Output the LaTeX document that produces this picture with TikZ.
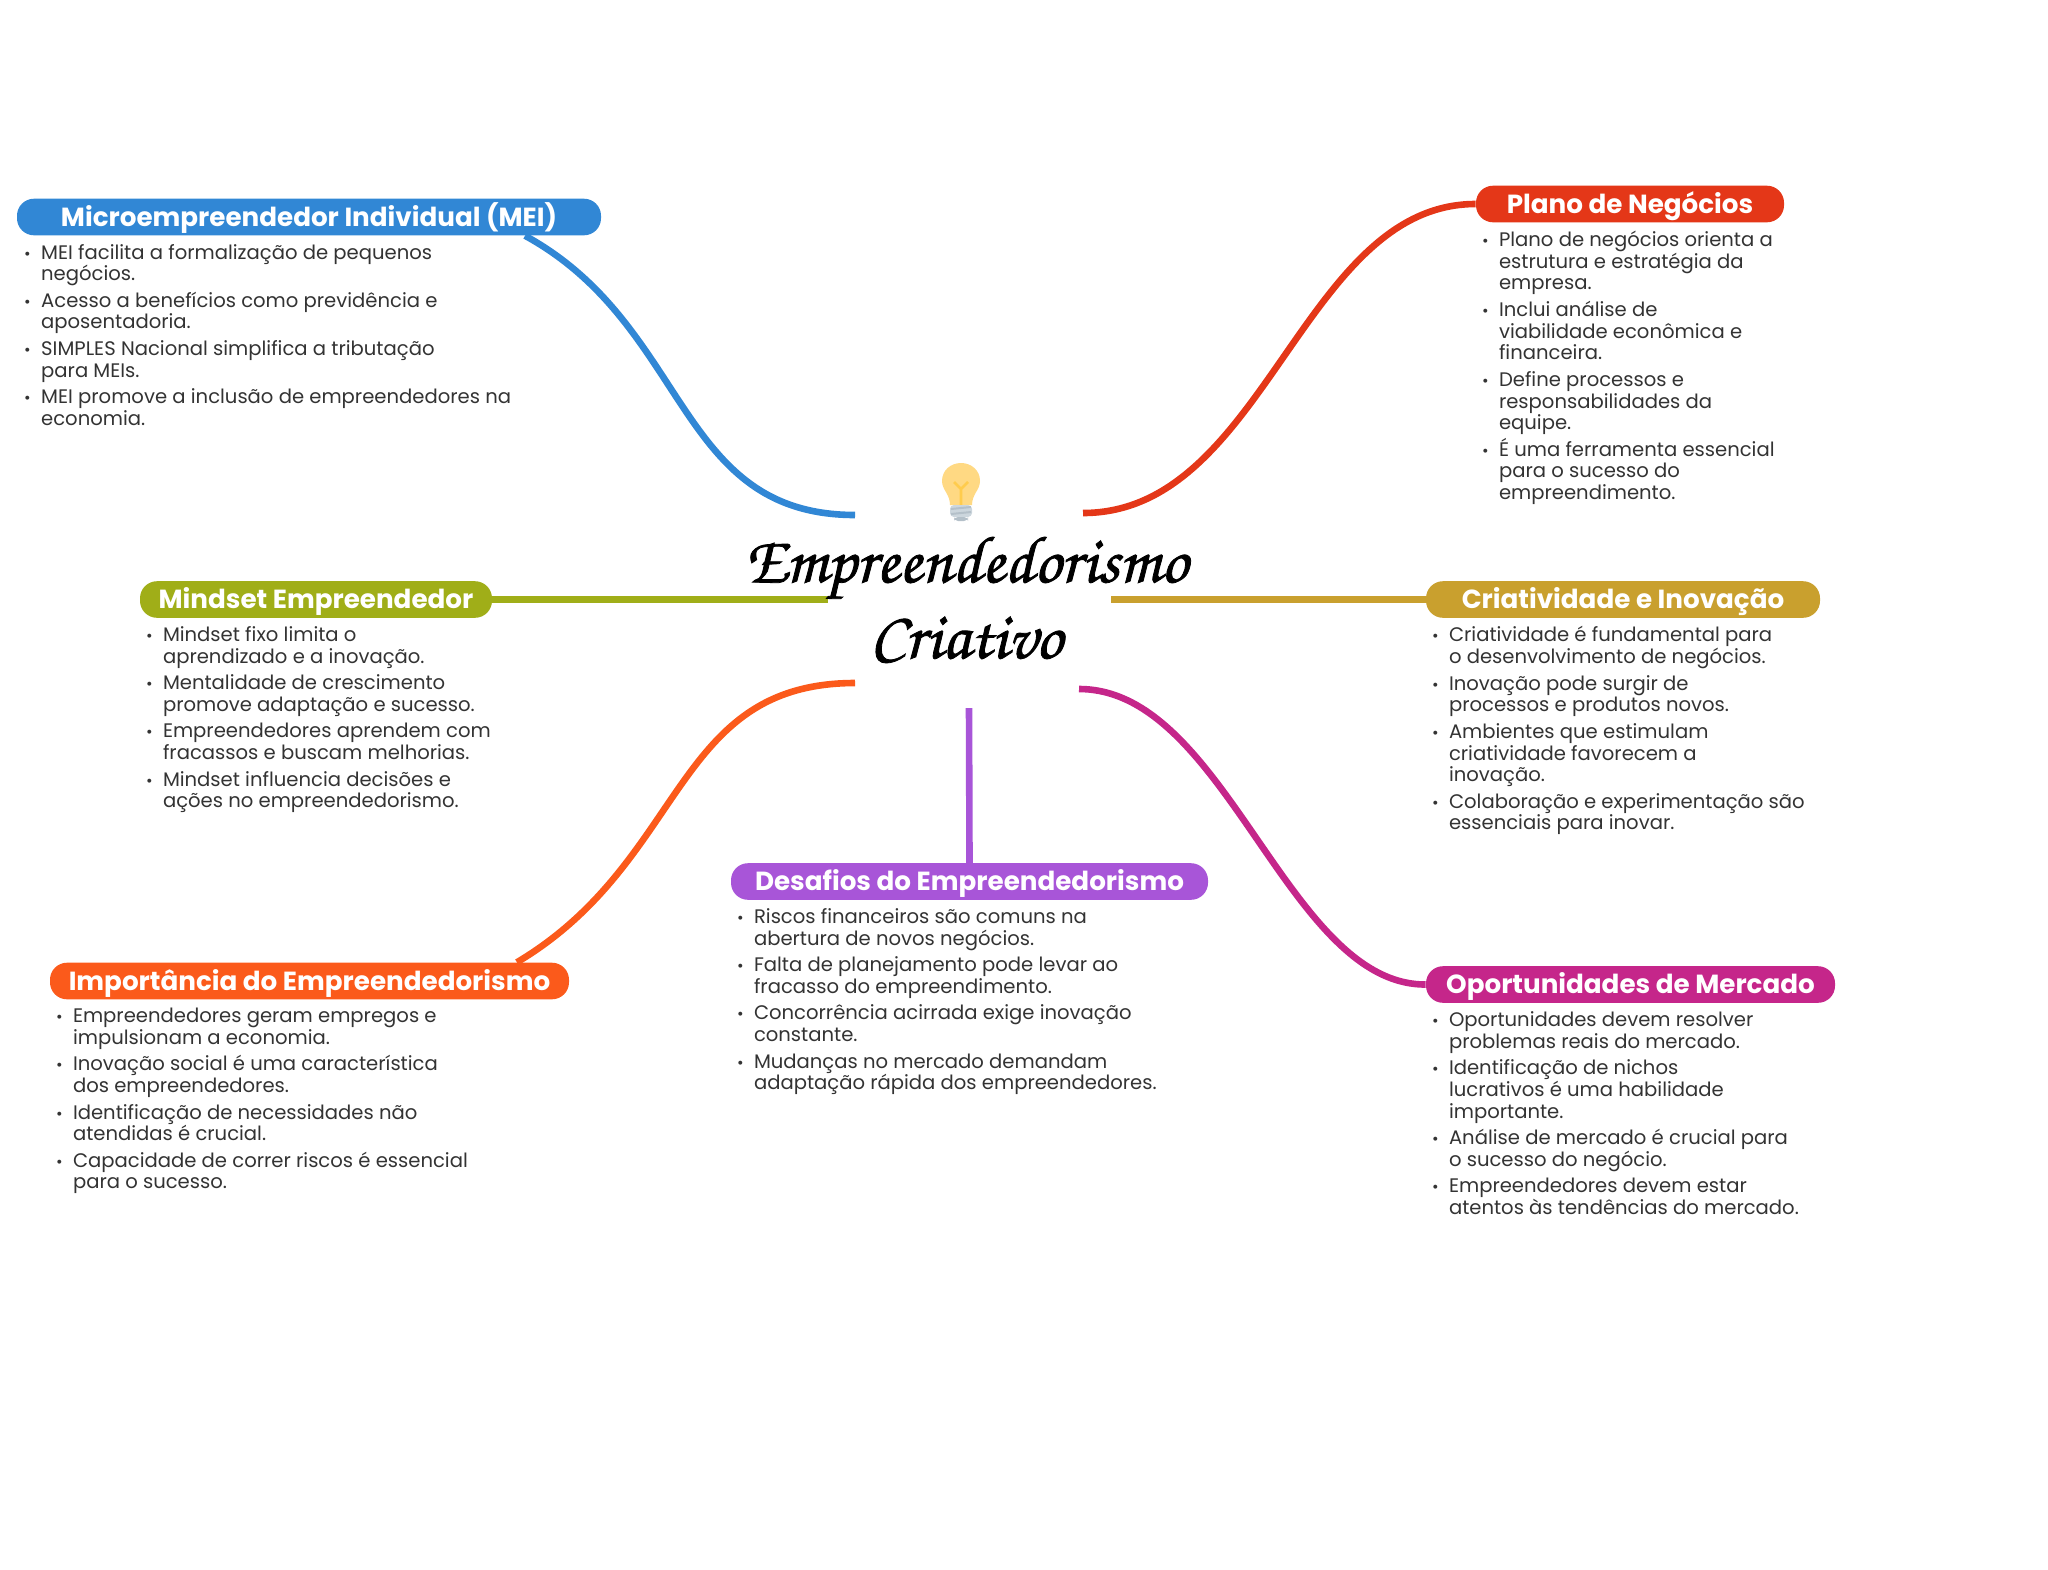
\documentclass[tikz,border=0pt]{standalone}
\usepackage{fontspec}
\setmainfont{Poppins}
\newfontfamily\titlefont[AutoFakeBold=1.2]{TeX Gyre Chorus}
\usetikzlibrary{positioning, backgrounds}
\definecolor{meiBlue}{HTML}{3187D5}
\definecolor{planoRed}{HTML}{E43718}
\definecolor{mindsetGreen}{HTML}{A0AE18}
\definecolor{criaGold}{HTML}{C9A02E}
\definecolor{impOrange}{HTML}{FB5A1B}
\definecolor{desafioPurple}{HTML}{A855D8}
\definecolor{oportMagenta}{HTML}{C5268A}
\definecolor{bulbGlass}{HTML}{FFD983}
\definecolor{bulbStem}{HTML}{FFCC4D}
\definecolor{bulbScrew}{HTML}{B4C0C9}
\definecolor{bulbTip}{HTML}{CCD6DD}
\tikzset{
  topicpill/.style={
    fill=#1, rectangle, rounded corners=8.5pt, text=white,
    font=\fontsize{13.1}{14}\selectfont\bfseries,
    text height=11pt, text depth=1.9pt,
    minimum height=18.3pt, inner sep=0pt
  },
  % Bullet lists under each pill
  topiclist/.style={
    align=left, inner sep=0pt, text=black!80,
    font=\fontsize{9.8}{10.85}\selectfont\lineskiplimit -10pt
  },
  % Branch line
  branch/.style={
    draw=#1, line width=3.3pt
  },
  titlenode/.style={
    align=center, inner sep=0pt, font=\titlefont\fontsize{33.4}{38}\selectfont\bfseries
  },
}
\newcommand{\itm}{\makebox[8.5pt][l]{\fontsize{8}{8}\selectfont •}}
\newcommand{\cnt}{\hspace*{8.5pt}}
\newcommand{\gap}{\\[2.4pt]}
\newcommand{\bulbicon}[2]{%
  \begin{scope}[shift={(#2)}]
    \fill[bulbGlass] (-11,23) .. controls (-11,12) and (-19,8) .. (-19,-1)
      .. controls (-19,-12) and (-10,-19) .. (0,-19)
      .. controls (10,-19) and (19,-12) .. (19,-1)
      .. controls (19,8) and (11,12) .. (11,23) -- cycle;          % glass
    \draw[bulbStem, line width=1.3pt] (0,23) -- (0,7) -- (-7,0) (0,7) -- (7,0);  % filament
    \fill[bulbTip, rounded corners=2pt] (-11,23) rectangle (11,35);  % screw
    \draw[bulbScrew, line width=1pt] (-10,27) -- (10,25) (-10,32) -- (10,30);     % thread
    \fill[bulbScrew, rounded corners=2pt] (-7,35) rectangle (7,39);   % tip
    \coordinate (#1) at (0,0);
  \end{scope}
}

\begin{document}
\begin{tikzpicture}[x=0.5pt, y=-0.5pt]
  \useasboundingbox (0,0) rectangle (2048,1569);

  %% ── Central topic ──
  \node[titlenode] (title) at (966,600) {Empreendedorismo\\Criativo};
  \bulbicon{bulb}{961,482}

  %% ── Topic pills ──
  \node[topicpill=meiBlue, minimum width=292pt] (mei) at (309,217) {Microempreendedor Individual (MEI)};
  \node[topicpill=planoRed, minimum width=154pt] (plano) at (1630,204) {Plano de Negócios};
  \node[topicpill=mindsetGreen, minimum width=176pt] (mindset) at (316,599.5) {Mindset Empreendedor};
  \node[topicpill=criaGold, minimum width=197pt] (cria) at (1623,599.5) {Criatividade e Inovação};
  \node[topicpill=impOrange, minimum width=259.5pt] (imp) at (309.5,981) {Importância do Empreendedorismo};
  \node[topicpill=desafioPurple, minimum width=238.5pt] (desafio) at (969.5,881.5) {Desafios do Empreendedorismo};
  \node[topicpill=oportMagenta, minimum width=204.5pt] (oport) at (1630.5,984.5) {Oportunidades de Mercado};

  %% ── Bullet lists ──
  \node[topiclist, below right=4pt and 3.6pt of mei.south west] (meiList) {%
    \itm MEI facilita a formalização de pequenos\\\cnt negócios.\gap
    \itm Acesso a benefícios como previdência e\\\cnt aposentadoria.\gap
    \itm SIMPLES Nacional simplifica a tributação\\\cnt para MEIs.\gap
    \itm MEI promove a inclusão de empreendedores na\\\cnt economia.};
  \node[topiclist, below right=4pt and 3pt of plano.south west] (planoList) {%
    \itm Plano de negócios orienta a\\\cnt estrutura e estratégia da\\\cnt empresa.\gap
    \itm Inclui análise de\\\cnt viabilidade econômica e\\\cnt financeira.\gap
    \itm Define processos e\\\cnt responsabilidades da\\\cnt equipe.\gap
    \itm É uma ferramenta essencial\\\cnt para o sucesso do\\\cnt empreendimento.};
  \node[topiclist, below right=4pt and 3pt of mindset.south west] (mindsetList) {%
    \itm Mindset fixo limita o\\\cnt aprendizado e a inovação.\gap
    \itm Mentalidade de crescimento\\\cnt promove adaptação e sucesso.\gap
    \itm Empreendedores aprendem com\\\cnt fracassos e buscam melhorias.\gap
    \itm Mindset influencia decisões e\\\cnt ações no empreendedorismo.};
  \node[topiclist, below right=4pt and 3pt of cria.south west] (criaList) {%
    \itm Criatividade é fundamental para\\\cnt o desenvolvimento de negócios.\gap
    \itm Inovação pode surgir de\\\cnt processos e produtos novos.\gap
    \itm Ambientes que estimulam\\\cnt criatividade favorecem a\\\cnt inovação.\gap
    \itm Colaboração e experimentação são\\\cnt essenciais para inovar.};
  \node[topiclist, below right=4pt and 3pt of imp.south west] (impList) {%
    \itm Empreendedores geram empregos e\\\cnt impulsionam a economia.\gap
    \itm Inovação social é uma característica\\\cnt dos empreendedores.\gap
    \itm Identificação de necessidades não\\\cnt atendidas é crucial.\gap
    \itm Capacidade de correr riscos é essencial\\\cnt para o sucesso.};
  \node[topiclist, below right=4pt and 3pt of desafio.south west] (desafioList) {%
    \itm Riscos financeiros são comuns na\\\cnt abertura de novos negócios.\gap
    \itm Falta de planejamento pode levar ao\\\cnt fracasso do empreendimento.\gap
    \itm Concorrência acirrada exige inovação\\\cnt constante.\gap
    \itm Mudanças no mercado demandam\\\cnt adaptação rápida dos empreendedores.};
  \node[topiclist, below right=4pt and 3pt of oport.south west] (oportList) {%
    \itm Oportunidades devem resolver\\\cnt problemas reais do mercado.\gap
    \itm Identificação de nichos\\\cnt lucrativos é uma habilidade\\\cnt importante.\gap
    \itm Análise de mercado é crucial para\\\cnt o sucesso do negócio.\gap
    \itm Empreendedores devem estar\\\cnt atentos às tendências do mercado.};

  %% ── Free ends near the title ──
  \coordinate (meiEnd) at (855,515);
  \coordinate (planoEnd) at (1083,513);
  \coordinate (mindsetEnd) at (828,599.5);
  \coordinate (criaEnd) at (1111,599.5);
  \coordinate (impEnd) at (855,683);
  \coordinate (desafioEnd) at (969,708);
  \coordinate (oportEnd) at (1079,689);

  %% ── Branches ──
  \begin{scope}[on background layer]
    \draw[branch=meiBlue] ([xshift=108pt]mei.south) .. controls (690,326) and (675,515) .. (meiEnd);
    \draw[branch=planoRed] (plano.west) .. controls (1302,204) and (1265,513) .. (planoEnd);
    \draw[branch=mindsetGreen] (mindset.east) -- (mindsetEnd);
    \draw[branch=criaGold] (cria.west) -- (criaEnd);
    \draw[branch=impOrange] ([xshift=103.7pt]imp.north) .. controls (687,861) and (672,683) .. (impEnd);
    \draw[branch=desafioPurple] (desafio.north) -- (desafioEnd);
    \draw[branch=oportMagenta] (oport.west) .. controls (1287,985) and (1226,689) .. (oportEnd);
  \end{scope}

\end{tikzpicture}
\end{document}
